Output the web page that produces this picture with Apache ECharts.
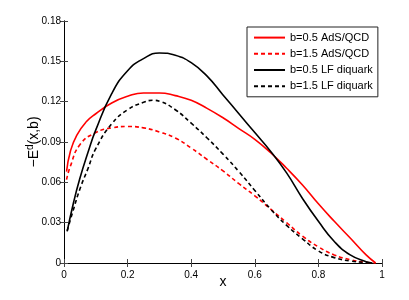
<!DOCTYPE html>
<html><head><meta charset="utf-8">
<script src="https://cdn.jsdelivr.net/npm/echarts@6/dist/echarts.min.js"></script>
<style>html,body{margin:0;padding:0;background:#fff}#c{width:409px;height:300px}</style>
</head><body><div id="c"></div>
<script>
var xTicks = [0, 0.2, 0.4, 0.6, 0.8, 1];
var yTicks = [0, 0.03, 0.06, 0.09, 0.12, 0.15, 0.18];
var seriesNames = ['b=0.5 AdS/QCD', 'b=1.5 AdS/QCD', 'b=0.5 LF diquark', 'b=1.5 LF diquark'];

var redSolidX = [0.008, 0.02, 0.04, 0.07, 0.1, 0.15, 0.2, 0.25, 0.3, 0.35, 0.4, 0.45, 0.5, 0.55, 0.6, 0.65, 0.7, 0.75, 0.8, 0.85, 0.9, 0.95, 0.98];
var redSolidY = [0.068, 0.083, 0.095, 0.105, 0.111, 0.119, 0.124, 0.1265, 0.1265, 0.1245, 0.121, 0.115, 0.108, 0.1, 0.092, 0.082, 0.0705, 0.058, 0.044, 0.031, 0.0186, 0.006, 0.0];

var redDashX = [0.008, 0.02, 0.05, 0.1, 0.15, 0.2, 0.25, 0.3, 0.35, 0.4, 0.45, 0.5, 0.55, 0.6, 0.65, 0.7, 0.75, 0.8, 0.85, 0.9, 0.95, 0.98];
var redDashY = [0.062, 0.072, 0.088, 0.097, 0.1005, 0.1015, 0.1005, 0.0975, 0.093, 0.0855, 0.077, 0.0685, 0.059, 0.05, 0.04, 0.03, 0.02, 0.012, 0.006, 0.0025, 0.0005, 0.0];

var blackSolidX = [0.01, 0.03, 0.05, 0.075, 0.1, 0.15, 0.2, 0.25, 0.3, 0.35, 0.4, 0.45, 0.5, 0.55, 0.6, 0.65, 0.7, 0.75, 0.8, 0.85, 0.9, 0.95, 0.97];
var blackSolidY = [0.0235, 0.045, 0.063, 0.082, 0.099, 0.126, 0.143, 0.152, 0.1562, 0.1545, 0.149, 0.139, 0.125, 0.111, 0.097, 0.083, 0.067, 0.048, 0.031, 0.016, 0.006, 0.001, 0.0];

var blackDashX = [0.01, 0.03, 0.05, 0.075, 0.1, 0.15, 0.2, 0.25, 0.28, 0.3, 0.35, 0.4, 0.45, 0.5, 0.55, 0.6, 0.65, 0.7, 0.75, 0.8, 0.85, 0.9, 0.95, 0.97];
var blackDashY = [0.024, 0.04, 0.055, 0.07, 0.085, 0.1035, 0.114, 0.1195, 0.121, 0.1203, 0.114, 0.104, 0.093, 0.081, 0.068, 0.054, 0.04, 0.028, 0.018, 0.009, 0.004, 0.0015, 0.0003, 0.0];

function pairs(xs, ys) { return xs.map(function (x, i) { return [x, ys[i]]; }); }
function fmt(v) { return String(Math.round(v * 1000) / 1000); }

var chart = echarts.init(document.getElementById('c'), null, {renderer: 'canvas'});
var font = 'Liberation Sans, Arial, Helvetica, sans-serif';
var axisLine = {show: true, lineStyle: {color: '#000', width: 1}};
var tick = {show: true, inside: true, length: 4, lineStyle: {color: '#444'}};

function mk(name, xs, ys, color, dash) {
  return {
    name: name, type: 'line', smooth: 0.5, symbol: 'none', showSymbol: false,
    data: pairs(xs, ys),
    itemStyle: {color: color},
    lineStyle: {color: color, width: 1.6, type: dash ? [4, 3] : 'solid'}
  };
}

chart.setOption({
  animation: false,
  backgroundColor: '#fff',
  grid: {left: 64, right: 27, top: 21, bottom: 37, containLabel: false},
  legend: {
    show: true,
    data: seriesNames,
    orient: 'vertical',
    left: 247, top: 27,
    itemWidth: 31, itemHeight: 14, itemGap: 5,
    itemStyle: {opacity: 0},
    backgroundColor: '#fff',
    borderColor: '#222', borderWidth: 1,
    padding: [5, 5, 5, 6],
    textStyle: {fontFamily: font, fontSize: 11, color: '#000'}
  },
  xAxis: [{
    type: 'value', min: 0, max: 1, interval: 0.2,
    position: 'bottom',
    axisLine: axisLine, axisTick: tick, splitLine: {show: false},
    axisLabel: {formatter: fmt, fontFamily: font, fontSize: 10, color: '#000', margin: 7},
    name: 'x', nameLocation: 'middle', nameGap: 12, nameMoveOverlap: false,
    nameTextStyle: {fontFamily: font, fontSize: 14, color: '#000', verticalAlign: 'top'}
  }, {
    type: 'value', min: 0, max: 1, interval: 0.2, position: 'top',
    axisLine: axisLine, axisTick: tick, axisLabel: {show: false}, splitLine: {show: false}
  }],
  yAxis: [{
    type: 'value', min: 0, max: 0.18, interval: 0.03,
    position: 'left',
    axisLine: axisLine, axisTick: tick, splitLine: {show: false},
    axisLabel: {formatter: fmt, fontFamily: font, fontSize: 10, color: '#000', margin: 3},
    name: '{a|\u2212E}{s|d}{a|(x,b)}', nameLocation: 'middle', nameGap: 21, nameRotate: 90,
    nameMoveOverlap: false,
    nameTextStyle: {
      fontFamily: font, color: '#000', verticalAlign: 'bottom',
      rich: {
        a: {fontFamily: font, fontSize: 14, color: '#000'},
        s: {fontFamily: font, fontSize: 10, color: '#000', verticalAlign: 'top', padding: [0, 0, 8, 0]}
      }
    }
  }, {
    type: 'value', min: 0, max: 0.18, interval: 0.03, position: 'right',
    axisLine: axisLine, axisTick: tick, axisLabel: {show: false}, splitLine: {show: false}
  }],
  series: [
    mk(seriesNames[0], redSolidX, redSolidY, '#ff0000', false),
    mk(seriesNames[1], redDashX, redDashY, '#ff0000', true),
    mk(seriesNames[2], blackSolidX, blackSolidY, '#000000', false),
    mk(seriesNames[3], blackDashX, blackDashY, '#000000', true)
  ]
});
</script>
</body></html>
